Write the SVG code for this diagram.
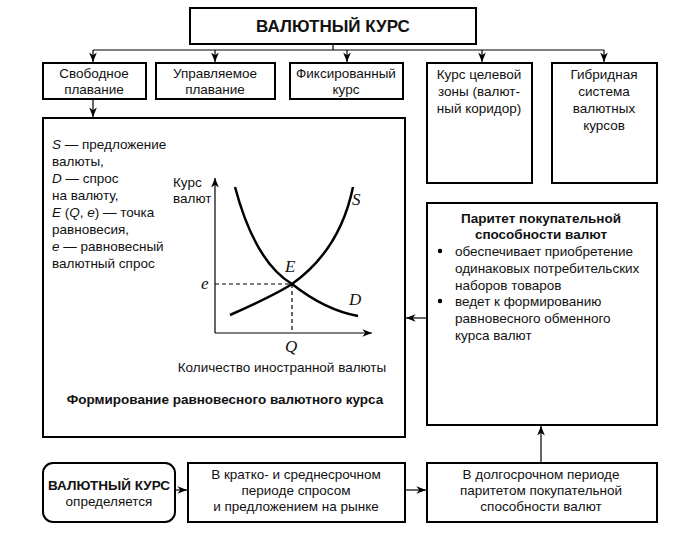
<svg xmlns="http://www.w3.org/2000/svg" width="687" height="544" viewBox="0 0 687 544">
<defs>
<marker id="a" viewBox="0 0 10 10" refX="10" refY="5" markerWidth="8" markerHeight="8" orient="auto"><path d="M0,1 L10,5 L0,9 L3,5 Z" fill="#000"/></marker>
<style>
rect{fill:#fff;stroke:#000;stroke-width:2}
text{font-family:"Liberation Sans",Arial,sans-serif;font-size:13.5px;fill:#111}
.c{text-anchor:middle}
.b{font-weight:bold}
.i{font-family:"Liberation Serif",serif;font-style:italic;font-size:17px}
.l{stroke:#000;stroke-width:1.2;fill:none}
</style>
</defs>
<rect x="0" y="0" width="687" height="544" style="stroke:none"/>
<g id="connectors" class="l">
<path d="M93,50 H604 M333,44 V50"/>
<path d="M93,50 V62" marker-end="url(#a)"/>
<path d="M215,50 V62" marker-end="url(#a)"/>
<path d="M347,50 V62" marker-end="url(#a)"/>
<path d="M482,50 V62" marker-end="url(#a)"/>
<path d="M604,50 V62" marker-end="url(#a)"/>
<path d="M93,99 V117" marker-end="url(#a)"/>
<path d="M427,318 H406" marker-end="url(#a)"/>
<path d="M175,490 H187" marker-end="url(#a)"/>
<path d="M405,490 H426" marker-end="url(#a)"/>
<path d="M541,463 V426" marker-end="url(#a)"/>
</g>
<g id="title"><rect x="190" y="8" width="286" height="36"/><text x="333" y="32" class="c b" style="font-size:17px">ВАЛЮТНЫЙ КУРС</text></g>
<g id="n1"><rect x="43" y="63" width="103" height="36"/><text x="94" y="78" class="c">Свободное</text><text x="94" y="94" class="c">плавание</text></g>
<g id="n2"><rect x="156" y="63" width="119" height="36"/><text x="215" y="78" class="c">Управляемое</text><text x="215" y="94" class="c">плавание</text></g>
<g id="n3"><rect x="290" y="63" width="113" height="36"/><text x="346" y="78" class="c">Фиксированный</text><text x="346" y="94" class="c">курс</text></g>
<g id="n4"><rect x="427" y="63" width="105" height="120"/><text x="479" y="79" class="c">Курс целевой</text><text x="479" y="96" class="c">зоны (валют-</text><text x="479" y="113" class="c">ный коридор)</text></g>
<g id="n5"><rect x="552" y="63" width="105" height="120"/><text x="604" y="79" class="c">Гибридная</text><text x="604" y="96" class="c">система</text><text x="604" y="113" class="c">валютных</text><text x="604" y="130" class="c">курсов</text></g>
<g id="graphbox"><rect x="43" y="118" width="362" height="319"/>
<text x="52" y="149"><tspan font-style="italic">S</tspan> — предложение</text>
<text x="52" y="166">валюты,</text>
<text x="52" y="183"><tspan font-style="italic">D</tspan> — спрос</text>
<text x="52" y="200">на валюту,</text>
<text x="52" y="217"><tspan font-style="italic">E</tspan> (<tspan font-style="italic">Q</tspan>, <tspan font-style="italic">e</tspan>) — точка</text>
<text x="52" y="234">равновесия,</text>
<text x="52" y="251"><tspan font-style="italic">e</tspan> — равновесный</text>
<text x="52" y="268">валютный спрос</text>
<text x="173" y="187">Курс</text><text x="173" y="203">валют</text>
<path d="M215,333 V178" class="l" marker-end="url(#a)"/>
<path d="M215,333 H372" class="l" marker-end="url(#a)"/>
<path d="M215,284 H292 V333" class="l" stroke-dasharray="4,3"/>
<path d="M230,315 Q275,295 292,284 Q340,250 353,187" style="stroke:#000;stroke-width:2.5;fill:none"/>
<path d="M235,187 Q255,262 292,284 Q325,310 358,316" style="stroke:#000;stroke-width:2.5;fill:none"/>
<text x="352" y="205" class="i">S</text><text x="285" y="272" class="i">E</text><text x="201" y="289" class="i">e</text><text x="349" y="305" class="i">D</text><text x="285" y="352" class="i">Q</text>
<text x="282" y="372" class="c">Количество иностранной валюты</text>
<text x="225" y="404" class="c b">Формирование равновесного валютного курса</text>
</g>
<g id="ppp"><rect x="427" y="203" width="230" height="222"/>
<text x="541" y="223" class="c b">Паритет покупательной</text><text x="541" y="239" class="c b">способности валют</text>
<circle cx="440" cy="251" r="2.2"/><circle cx="440" cy="301" r="2.2"/>
<text x="455" y="256">обеспечивает приобретение</text><text x="455" y="273">одинаковых потребительских</text><text x="455" y="290">наборов товаров</text>
<text x="455" y="306">ведет к формированию</text><text x="455" y="323">равновесного обменного</text><text x="455" y="340">курса валют</text>
</g>
<g id="b1"><rect x="43" y="463" width="132" height="59" rx="10"/><text x="109" y="490" class="c b">ВАЛЮТНЫЙ КУРС</text><text x="109" y="506" class="c">определяется</text></g>
<g id="b2"><rect x="188" y="463" width="217" height="59"/><text x="296" y="479" class="c">В кратко- и среднесрочном</text><text x="296" y="495" class="c">периоде спросом</text><text x="296" y="511" class="c">и предложением на рынке</text></g>
<g id="b3"><rect x="427" y="463" width="230" height="59"/><text x="541" y="479" class="c">В долгосрочном периоде</text><text x="541" y="495" class="c">паритетом покупательной</text><text x="541" y="511" class="c">способности валют</text></g>
</svg>
